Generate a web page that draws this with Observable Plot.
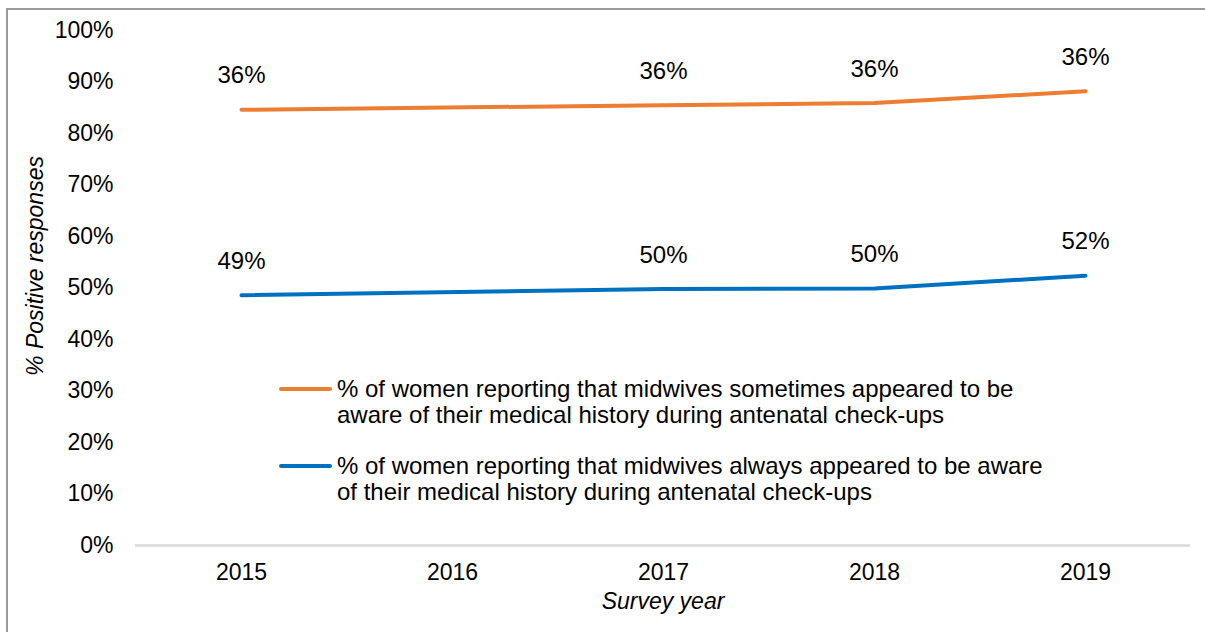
<!DOCTYPE html>
<html>
<head>
<meta charset="utf-8">
<script src="https://cdn.jsdelivr.net/npm/d3@7"></script>
<script src="https://cdn.jsdelivr.net/npm/@observablehq/plot@0.6"></script>
<style>
  html, body { margin: 0; padding: 0; background: #fff; }
  #wrap { position: relative; width: 1205px; height: 632px; overflow: hidden; font-family: "Liberation Sans", Arial, sans-serif; }
  #border { position: absolute; left: 6px; top: 8px; width: 1400px; height: 800px; border-left: 2px solid #9a9a9a; border-top: 2px solid #9a9a9a; pointer-events: none; }
  .leg { position: absolute; left: 279px; font-size: 24px; line-height: 26px; color: #000; }
  .leg .sw { position: absolute; left: 0; top: 11px; width: 53px; height: 4px; border-radius: 2px; }
  .leg .tx { position: absolute; left: 58px; top: 0; white-space: nowrap; }
</style>
</head>
<body>
<div id="wrap"><div id="border"></div></div>
<script>
const years = ["2015", "2016", "2017", "2018", "2019"];
const dataYears = ["2015", "2017", "2018", "2019"];
const always = [48.6, 49.8, 49.9, 52.4];
const sometimes = [36.0, 35.7, 36.0, 35.8];
const yTicks = [0, 10, 20, 30, 40, 50, 60, 70, 80, 90, 100];
const seriesNames = [
  ["% of women reporting that midwives sometimes appeared to be", "aware of their medical history during antenatal check-ups"],
  ["% of women reporting that midwives always appeared to be aware", "of their medical history during antenatal check-ups"]
];
const colors = ["#ED7D31", "#0070C0"];

const blue = dataYears.map((y, i) => ({year: y, value: always[i], label: Math.round(always[i]) + "%"}));
const orange = dataYears.map((y, i) => ({year: y, value: always[i] + sometimes[i], label: Math.round(sometimes[i]) + "%"}));

const chart = Plot.plot({
  width: 1205,
  height: 632,
  marginLeft: 135,
  marginRight: 15,
  marginTop: 30,
  marginBottom: 87,
  style: {fontFamily: "Liberation Sans, Arial, sans-serif", fontSize: "23px", color: "#000", background: "transparent"},
  x: {type: "point", domain: years, padding: 0.5, label: null},
  y: {domain: [0, 100], label: null},
  marks: [
    Plot.axisY({ticks: yTicks, tickFormat: d => d + "%", tickSize: 0, tickPadding: 22, fontSize: 23, fill: "#000"}),
    Plot.axisX({tickSize: 0, tickPadding: 18, fontSize: 23, fill: "#000"}),
    Plot.ruleY([0], {stroke: "#d9d9d9", strokeWidth: 2.5}),
    Plot.lineY(orange, {x: "year", y: "value", stroke: colors[0], strokeWidth: 4, strokeLinecap: "round"}),
    Plot.lineY(blue, {x: "year", y: "value", stroke: colors[1], strokeWidth: 4, strokeLinecap: "round"}),
    Plot.text(orange, {x: "year", y: "value", text: "label", dy: -34, fontSize: 24, fill: "#000"}),
    Plot.text(blue, {x: "year", y: "value", text: "label", dy: -34, fontSize: 24, fill: "#000"}),
    Plot.text(["% Positive responses"], {frameAnchor: "left", textAnchor: "middle", dx: -100, dy: -22, rotate: -90, fontSize: 23, fontStyle: "italic", fill: "#000"}),
    Plot.text(["Survey year"], {frameAnchor: "bottom", dy: 63, fontSize: 23, fontStyle: "italic", fill: "#000"})
  ]
});
const wrap = document.getElementById("wrap");
wrap.insertBefore(chart, wrap.firstChild);

const legTops = [376, 453];
seriesNames.forEach((lines, i) => {
  const d = document.createElement("div");
  d.className = "leg";
  d.style.top = legTops[i] + "px";
  const sw = document.createElement("div");
  sw.className = "sw";
  sw.style.background = colors[i];
  const tx = document.createElement("div");
  tx.className = "tx";
  tx.innerHTML = lines.join("<br>");
  d.appendChild(sw);
  d.appendChild(tx);
  wrap.appendChild(d);
});
</script>
</body>
</html>
